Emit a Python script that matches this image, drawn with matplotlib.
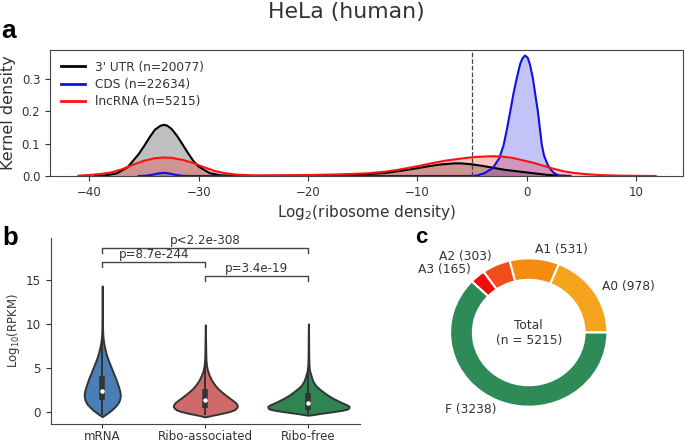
import numpy as np
from matplotlib import pyplot as plt

# ---- panel a: kernel density curves ----
utr_x = [-39.5, -38.5, -37.5, -36.5, -35.5, -35.0, -34.5, -34.0, -33.5, -33.2, -32.9, -32.5,
         -32.0, -31.5, -31.0, -30.5, -30.0, -29.0, -28.0, -27.0, -25.0, -20.0, -17.0, -15.0,
         -13.0, -11.5, -10.0, -9.0, -8.0, -7.0, -6.5, -6.0, -5.0, -4.0, -3.0, -2.0, -1.0,
         0.0, 1.0, 2.0, 3.0, 4.0]
utr_y = [0.000, 0.002, 0.008, 0.027, 0.067, 0.092, 0.119, 0.143, 0.155, 0.158, 0.156, 0.146,
         0.125, 0.099, 0.072, 0.047, 0.029, 0.009, 0.002, 0.001, 0.000, 0.001, 0.003, 0.005,
         0.009, 0.016, 0.024, 0.030, 0.035, 0.038, 0.039, 0.039, 0.036, 0.031, 0.025, 0.019, 0.015,
         0.011, 0.007, 0.003, 0.001, 0.000]

cds_x = [-35.5, -34.8, -34.2, -33.7, -33.2, -32.7, -32.2, -31.6, -31.0, -20.0, -10.0, -5.5,
         -4.6, -3.9, -3.1, -2.5, -2.1, -1.8, -1.5, -1.2, -0.9, -0.6, -0.4, -0.15, 0.1, 0.3,
         0.57, 0.8, 1.03, 1.2, 1.39, 1.6, 1.94, 2.25, 2.55, 3.0, 4.0]
cds_y = [0.000, 0.001, 0.004, 0.008, 0.010, 0.008, 0.004, 0.001, 0.000, 0.000, 0.000, 0.000,
         0.001, 0.008, 0.024, 0.055, 0.096, 0.145, 0.199, 0.255, 0.302, 0.345, 0.362, 0.372, 0.365, 0.345,
         0.302, 0.250, 0.199, 0.150, 0.096, 0.062, 0.034, 0.018, 0.008, 0.001, 0.000]

lnc_x = [-41.0, -40.0, -39.0, -38.0, -37.0, -36.0, -35.0, -34.0, -33.2, -32.5, -31.5, -30.5,
         -29.5, -28.5, -27.5, -26.5, -25.0, -23.0, -20.0, -17.0, -14.7, -13.0, -11.6, -10.0,
         -8.6, -7.5, -6.6, -5.5, -4.5, -3.3, -2.3, -1.3, -0.3, 0.6, 1.5, 2.4, 3.3, 4.2, 5.3,
         6.6, 8.5, 11.8]
lnc_y = [0.001, 0.003, 0.006, 0.011, 0.021, 0.035, 0.047, 0.055, 0.057, 0.056, 0.050, 0.040,
         0.027, 0.015, 0.008, 0.004, 0.002, 0.002, 0.003, 0.005, 0.008, 0.013, 0.020, 0.030,
         0.040, 0.047, 0.051, 0.056, 0.059, 0.061, 0.060, 0.056, 0.048, 0.041, 0.032, 0.023, 0.015, 0.010, 0.006,
         0.003, 0.001, 0.000]

kde_labels = ["3' UTR (n=20077)", "CDS (n=22634)", "lncRNA (n=5215)"]
kde_colors = ["black", "#1010e0", "#ff1010"]
cutoff = -5

# ---- panel b: violin profiles (y value, half width) ----
groups = ["mRNA", "Ribo-associated", "Ribo-free"]
mrna_y = [-0.5, -0.35, -0.1, 0.2, 0.5, 0.9, 1.3, 1.7, 2.0, 2.4, 2.8, 3.3, 3.84, 4.4, 4.96, 5.5,
          6.08, 6.6, 7.2, 7.6, 8.1, 8.6, 9.1, 10.0, 11.0, 12.5, 14.3]
mrna_w = [0.0, 0.02, 0.05, 0.085, 0.113, 0.145, 0.165, 0.173, 0.175, 0.17, 0.16, 0.146, 0.13, 0.11, 0.091, 0.072,
          0.053, 0.038, 0.026, 0.018, 0.011, 0.007, 0.004, 0.003, 0.002, 0.0015, 0.0]
ra_y = [-0.53, -0.45, -0.34, -0.2, -0.08, 0.1, 0.29, 0.5, 0.67, 0.85, 1.04, 1.3, 1.6, 2.0, 2.35,
        2.7, 3.09, 3.6, 4.21, 4.7, 5.3, 6.0, 7.0, 8.5, 9.9]
ra_w = [0.0, 0.03, 0.07, 0.13, 0.178, 0.24, 0.283, 0.303, 0.311, 0.307, 0.297, 0.27, 0.235, 0.19, 0.154,
        0.12, 0.092, 0.062, 0.037, 0.022, 0.011, 0.006, 0.004, 0.002, 0.0]
rf_y = [-0.34, -0.28, -0.15, 0.0, 0.11, 0.25, 0.37, 0.5, 0.67, 0.85, 1.04, 1.3, 1.6, 2.0, 2.35,
        2.7, 3.09, 3.6, 4.21, 4.6, 4.96, 5.5, 6.5, 8.5, 10.0]
rf_w = [0.0, 0.04, 0.105, 0.2, 0.267, 0.34, 0.38, 0.392, 0.394, 0.37, 0.332, 0.285, 0.235, 0.178, 0.138,
        0.10, 0.066, 0.04, 0.024, 0.014, 0.008, 0.005, 0.003, 0.002, 0.0]
q1 = [1.41, 0.45, 0.22]
q3 = [4.14, 2.6, 2.16]
medians = [2.42, 1.34, 1.02]
whisk_lo = [-0.3, -0.3, -0.25]
whisk_hi = [8.2, 5.8, 5.0]
violin_colors = ["#4a7fb5", "#cf6a6a", "#2f8452"]
pvals = [(0, 2, "p<2.2e-308"), (0, 1, "p=8.7e-244"), (1, 2, "p=3.4e-19")]
bracket_y = [18.6, 17.05, 15.45]

# ---- panel c: donut ----
classes = ["A0", "A1", "A2", "A3", "F"]
counts = [978, 531, 303, 165, 3238]
donut_colors = ["#f6a31e", "#f48c10", "#f04e1a", "#f00a0a", "#2e8b57"]

txt = "#333333"
plt.rcParams['font.family'] = ['DejaVu Sans']
plt.rcParams['xtick.color'] = txt
plt.rcParams['ytick.color'] = txt
plt.rcParams['axes.edgecolor'] = "#444444"

fig = plt.figure(figsize=(6.85, 4.46), dpi=100)

# ================= a =================
ax1 = fig.add_axes([0.073, 0.6054, 0.924, 0.2832])
for xs, ys, c, lab in zip([utr_x, cds_x, lnc_x], [utr_y, cds_y, lnc_y], kde_colors, kde_labels):
    ax1.plot(xs, ys, color=c, lw=1.5, label=lab)
    ax1.fill_between(xs, ys, color=c, alpha=0.25, lw=0)
ax1.axvline(cutoff, color="#444444", ls="--", lw=0.9)
ax1.set_xlim(-43.6, 14.3)
ax1.set_ylim(0, 0.39)
ax1.set_xticks([-40, -30, -20, -10, 0, 10])
ax1.set_yticks([0.0, 0.1, 0.2, 0.3])
ax1.tick_params(labelsize=8.5, length=3.5)
ax1.set_ylabel("Kernel density", fontsize=11.5, color=txt, labelpad=4)
ax1.set_xlabel("Log$_2$(ribosome density)", fontsize=11, color=txt, labelpad=3)
leg = ax1.legend(loc="upper left", frameon=False, fontsize=8.7, labelspacing=0.35)
for line in leg.get_lines():
    line.set_linewidth(2)
for t in leg.get_texts():
    t.set_color(txt)

# ================= b =================
ax2 = fig.add_axes([0.074, 0.050, 0.4515, 0.4157])
profiles = [(mrna_y, mrna_w), (ra_y, ra_w), (rf_y, rf_w)]
stats = []
for (ys, ws), m in zip(profiles, medians):
    stats.append(dict(coords=np.array(ys), vals=np.array(ws), mean=m, median=m,
                      min=ys[0], max=ys[-1]))
widths = [2 * max(ws) for ys, ws in profiles]
parts = ax2.violin(stats, positions=range(3), widths=widths, showextrema=False)
for body, c in zip(parts['bodies'], violin_colors):
    body.set_facecolor(c)
    body.set_edgecolor("#333333")
    body.set_linewidth(1.4)
    body.set_alpha(1)
pos = np.arange(3)
ax2.vlines(pos, whisk_lo, whisk_hi, color="#333333", lw=1.4)
ax2.vlines(pos, q1, q3, color="#333333", lw=4)
ax2.scatter(pos, medians, s=5, color="white", zorder=3)
for (i, j, p), by in zip(pvals, bracket_y):
    ax2.plot([i, i, j, j], [by - 0.55, by, by, by - 0.55], color="#444444", lw=1)
    ax2.text((i + j) / 2, by + 0.85, p, ha="center", va="center", fontsize=8.6, color=txt)
ax2.set_xlim(-0.5, 2.5)
ax2.set_ylim(-1.3, 19.7)
ax2.set_xticks(pos)
ax2.set_xticklabels(groups)
ax2.set_yticks([0, 5, 10, 15])
ax2.tick_params(labelsize=8.6, length=3.5)
ax2.tick_params(axis="x", length=3, pad=1.5)
ax2.spines['top'].set_visible(False)
ax2.spines['right'].set_visible(False)
ax2.set_ylabel("Log$_{10}$(RPKM)", fontsize=8.4, color=txt, labelpad=3)

# ================= c =================
ax3 = fig.add_axes([0.5996, 0.0049, 0.3445, 0.4991])
labels = ["%s (%d)" % (c, n) for c, n in zip(classes, counts)]
ax3.pie(counts, labels=labels, colors=donut_colors, startangle=0, counterclock=True,
        labeldistance=1.12, wedgeprops=dict(width=0.29, edgecolor="white", linewidth=1.5),
        textprops=dict(fontsize=8.8, color=txt))
ax3.text(0, 0, "Total\n(n = %d)" % sum(counts), ha="center", va="center", fontsize=8.8, color=txt)
ax3.set_aspect("auto")
ax3.set_xlim(-1.5, 1.5)
ax3.set_ylim(-1.5, 1.5)

# ---- title and panel letters ----
fig.text(346 / 685, 1 - 12 / 446, "HeLa (human)", ha="center", va="center", fontsize=15.8, color=txt)
fig.text(1 / 685, 1 - 38 / 446, "a", fontsize=19, weight="bold", family="Liberation Sans", va="baseline")
fig.text(2 / 685, 1 - 245 / 446, "b", fontsize=18.5, weight="bold", family="Liberation Sans", va="baseline")
fig.text(415 / 685, 1 - 243 / 446, "c", fontsize=16, weight="bold", family="Liberation Sans", va="baseline")

plt.savefig("out.png", dpi=100)
